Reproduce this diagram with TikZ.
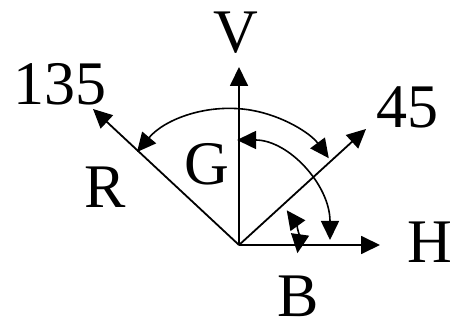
\documentclass[tikz,border=0pt]{standalone}
\usepackage{fontspec}
\setmainfont{Liberation Serif}
\usepackage{tikz}
\usetikzlibrary{arrows.meta}

\begin{document}
\begin{tikzpicture}[x=1pt, y=1pt,
  every node/.style={font=\fontsize{62}{70}\selectfont, inner sep=0pt, anchor=base},
  vec/.style={-{Triangle[length=19pt, width=18pt]}, line width=1.8pt},
  dvec/.style={{Triangle[length=19pt, width=18pt]}-{Triangle[length=19pt, width=18pt]}, line width=1.6pt}]
\useasboundingbox (0,0) rectangle (454,329);
% axes from the origin
\coordinate (O) at (239,84);
\coordinate (htip) at (380,84);
\coordinate (vtip) at (239,262);
\coordinate (rtip) at (93,220);
\coordinate (ftip) at (366,200);
\foreach \t in {htip,vtip,rtip,ftip}
  \draw[vec] (O) -- (\t);
% angle arcs
\coordinate (rg) at (137,177);
\coordinate (gv) at (237,189);
\coordinate (bf) at ([shift={(36:59pt)}]O);
\draw[dvec] (rg) arc[start angle=140, end angle=36.3, radius=122pt];
\draw[dvec] (gv) arc[start angle=90, end angle=0, x radius=93pt, y radius=100pt];
\draw[dvec] (bf) arc[start angle=36, end angle=-8, radius=59pt];
% labels
\node (l135) at (60,224) {135};
\node (lv) at (236,276) {V};
\node (l45) at (407,201) {45};
\node (lr) at (105,121) {R};
\node (lg) at (207,144) {G};
\node (lh) at (430,67) {H};
\node (lb) at (298,13) {B};
\end{tikzpicture}
\end{document}
